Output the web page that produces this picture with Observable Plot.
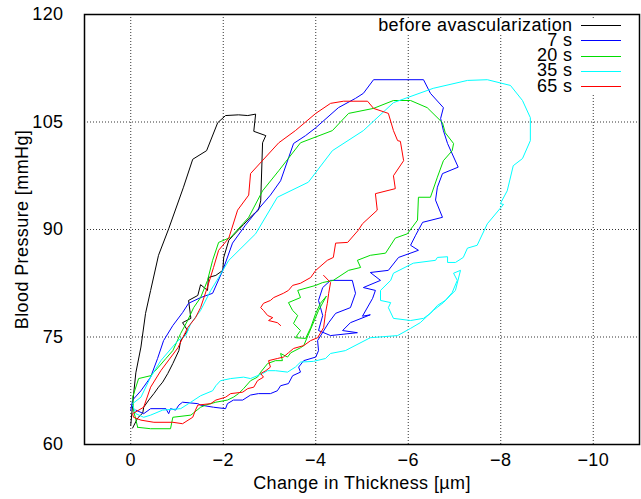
<!DOCTYPE html>
<html><head><meta charset="utf-8">
<script src="https://cdn.jsdelivr.net/npm/d3@7"></script>
<script src="https://cdn.jsdelivr.net/npm/@observablehq/plot@0.6"></script>
<style>
body{margin:0;background:#fff;}
#chart{position:relative;width:641px;height:499px;font-family:"Liberation Sans",Arial,sans-serif;}
.lg{position:absolute;font-size:18px;letter-spacing:0.4px;line-height:15px;height:15px;color:#000;white-space:nowrap;}
</style></head><body><div id="chart"></div>
<script>
const seriesNames = ["before avascularization", "7 s", "20 s", "35 s", "65 s"];
const seriesColors = ["#000000", "#0000ff", "#00dd00", "#00ffff", "#ff0000"];
const xTicks = [0, -2, -4, -6, -8, -10];
const yTicks = [60, 75, 90, 105, 120];

const before = [[0,62.7],[-0.06,66.9],[-0.11,70],[-0.22,73.6],[-0.32,78.3],[-0.43,81.5],[-0.6,86.4],[-0.82,90.1],[-1.14,95.9],[-1.34,99.8],[-1.64,101],[-1.88,104.9],[-2.05,105.9],[-2.33,106],[-2.53,105.9],[-2.7,106.1],[-2.66,103.7],[-2.92,103.1],[-2.85,102.1],[-2.81,94],[-2.76,92.7],[-2.63,92],[-2.44,90.7],[-2.22,89.2],[-2.12,88.5],[-2.01,86.1],[-1.99,84.3],[-1.84,83.6],[-1.68,83.3],[-1.66,81.5],[-1.51,82.3],[-1.45,80.8],[-1.25,80.1],[-1.3,77.6],[-1.12,77],[-1.23,75.9],[-1.08,74.5],[-1.04,73.1],[-0.91,71.3],[-0.8,69.9],[-0.69,68.7],[-0.6,68],[-0.5,67.1],[-0.39,66.2],[-0.28,65.2],[-0.26,64.4],[-0.15,63.7],[-0.04,62.3]];

const s7 = [[0,64.8],[-0.04,66.2],[-0.22,67.5],[-0.43,69.4],[-0.58,72],[-0.71,74.5],[-0.91,76.6],[-1.12,78.4],[-1.25,79.7],[-1.51,80.5],[-1.77,81.1],[-1.99,84.3],[-2.2,88.1],[-2.48,90.6],[-2.74,92.7],[-3.02,94.8],[-3.24,96.8],[-3.52,102],[-3.78,103.1],[-4,104.2],[-4.49,107],[-4.86,108.3],[-5.03,109],[-5.25,110.9],[-6.33,110.9],[-6.48,109],[-6.76,107],[-6.7,105.5],[-6.76,103.8],[-6.85,102],[-7.08,98.7],[-6.74,97.8],[-6.63,95.9],[-6.59,94.1],[-6.74,91.7],[-6.31,91],[-6.16,89.2],[-6.05,87.8],[-6.22,87.1],[-5.79,86.1],[-5.57,84.3],[-5.18,84],[-5.4,82.9],[-5.03,81.9],[-5.29,81.5],[-5.23,80.4],[-5.01,77.9],[-5.18,78.1],[-4.75,77],[-4.58,75.9],[-4.9,75.6],[-4.32,75.2],[-4.06,75.9],[-4.15,78],[-4.06,80.1],[-4.15,81.9],[-4.32,82.9],[-4.79,82.9],[-4.86,81.1],[-4.75,79.1],[-4.43,78.3],[-4.28,77],[-4.04,74.5],[-4.06,73.1],[-4,72.2],[-3.74,71.7],[-3.63,70.8],[-3.67,70.1],[-3.5,69.6],[-3.41,68.5],[-3.24,68.2],[-3.17,67.5],[-3.02,67.1],[-2.76,67.1],[-2.59,66.9],[-2.42,66.2],[-2.22,66.2],[-2.09,65.7],[-2.05,65],[-1.79,65.2],[-1.51,65.5],[-1.45,65.7],[-1.12,65.9],[-1.04,65.5],[-0.97,64.8],[-0.86,65],[-0.82,64.3],[-0.76,65],[-0.43,65],[-0.28,64.3],[-0.11,64.8]];

const s20 = [[-0.15,62.4],[-0.06,64.8],[-0.04,66.6],[-0.17,69.2],[-0.43,69.6],[-0.6,70.8],[-0.76,72],[-0.91,73.1],[-1.08,75.5],[-1.23,77.3],[-1.36,79.1],[-1.51,80.5],[-1.66,82.9],[-1.77,85.7],[-1.9,88.2],[-2.16,88.9],[-2.55,91.7],[-2.85,95.4],[-3.2,98.2],[-3.67,102.1],[-4.36,103.8],[-4.71,106.2],[-5.25,106.9],[-5.68,108],[-6.05,108],[-6.41,107],[-6.74,104.9],[-6.8,103.5],[-6.98,102],[-6.95,101],[-6.76,99.6],[-6.63,97.3],[-6.48,94.5],[-6.22,94.5],[-6.2,91.3],[-5.98,89.4],[-5.72,88.8],[-5.51,86.7],[-5.18,86.4],[-4.9,85.7],[-4.97,84.7],[-4.71,84.3],[-4.38,82.9],[-4.15,82.6],[-4,82.2],[-3.61,81.5],[-3.67,80.5],[-3.41,79.8],[-3.5,78.7],[-3.61,78],[-3.52,76.9],[-3.67,75.9],[-3.56,74.9],[-3.78,74.8],[-3.89,76.3],[-4,78.3],[-4.1,79.7],[-4.23,80.7],[-4.06,78.7],[-3.74,73.8],[-3.67,73.5],[-3.46,72.8],[-3.39,72.2],[-3.24,72.7],[-3.28,71.7],[-3.13,71.7],[-2.96,71.3],[-2.81,70.1],[-2.74,69.4],[-2.59,68.9],[-2.44,67.8],[-2.33,67.1],[-2.22,66.6],[-2.09,66.2],[-1.84,65.9],[-1.62,65.5],[-1.51,65.2],[-1.3,64.1],[-0.91,63.8],[-0.86,62.2],[-0.43,62.2],[-0.15,62.4]];

const s35 = [[-0.04,65.7],[-0.22,66.6],[-0.43,69.4],[-0.65,71.7],[-1.02,74.5],[-1.19,75.2],[-1.3,76.9],[-1.51,78.7],[-1.73,81.5],[-1.9,83.3],[-2.12,85.7],[-2.7,89.4],[-3.17,94.5],[-3.84,96.6],[-4.36,101],[-5.03,103.8],[-5.68,107.7],[-6.54,109.7],[-7.28,110.8],[-7.71,110.9],[-8.21,110.1],[-8.47,108],[-8.64,105.6],[-8.64,102.4],[-8.47,99.9],[-8.27,98.9],[-8.14,95.4],[-7.99,93.6],[-8.06,93.5],[-7.71,90.8],[-7.49,87.8],[-7.28,87.4],[-7.19,86.1],[-7.02,85.4],[-6.85,85.4],[-6.85,86.2],[-6.63,86.1],[-6.59,85.7],[-6.11,85.3],[-5.68,83.9],[-5.62,82.9],[-5.4,81.5],[-5.4,80.1],[-5.62,79.8],[-5.57,79.1],[-5.68,77.6],[-6.05,77.3],[-6.33,77.6],[-6.48,78.3],[-6.63,79.4],[-6.8,80.1],[-6.95,81.2],[-7.06,82.9],[-6.98,83.9],[-7.13,84.3],[-7.02,81.5],[-6.91,80.8],[-6.76,79.8],[-6.54,78.7],[-6.26,77],[-6.05,76.2],[-5.77,75.2],[-5.18,74.9],[-4.64,73.1],[-4.32,72.7],[-4.21,72],[-3.95,71.6],[-3.67,71.5],[-3.56,70.8],[-3.39,70.1],[-3.13,70.3],[-2.96,70.3],[-2.85,69.9],[-2.59,69.2],[-2.44,69.4],[-2.16,69.2],[-1.94,68.9],[-1.84,68.2],[-1.77,67.5],[-1.51,66.8],[-1.25,65.7],[-1.08,65],[-0.69,64.8],[-0.43,64.1],[-0.28,63.8],[-0.11,64.3],[-0.04,65.5]];

const s65 = [[-3.24,76.6],[-3.17,77],[-2.98,77.3],[-3.07,77.7],[-2.96,78],[-2.87,78.7],[-2.81,79.1],[-2.87,79.7],[-3.02,80.1],[-3.09,80.5],[-3.3,81.1],[-3.41,81.5],[-3.5,82.2],[-3.67,82.5],[-3.89,83.3],[-4,84.3],[-4.25,85.7],[-4.38,86.1],[-4.43,88.1],[-4.69,88.2],[-4.92,89.9],[-5.01,90.8],[-5.33,92.7],[-5.29,95],[-5.72,95.7],[-5.68,97.5],[-5.9,99.6],[-5.83,102.3],[-5.77,102.4],[-5.68,103.8],[-5.57,106.2],[-5.25,106.9],[-5.12,107.9],[-4.6,107.9],[-4.32,107.6],[-4,106.2],[-3.56,103.8],[-3.2,102.1],[-2.59,97.8],[-2.55,94.8],[-2.31,92.7],[-2.12,88.8],[-1.9,87.1],[-1.79,84.7],[-1.66,82],[-1.51,79.1],[-1.4,77.7],[-1.23,76.3],[-1.02,73.5],[-0.65,70.3],[-0.43,68],[-0.28,65.2],[-0.04,64.3],[-0.06,63.8],[-0.22,63.4],[-0.5,63.1],[-0.91,63.1],[-1.12,62.9],[-1.34,63.8],[-1.4,64.8],[-1.45,65.5],[-1.73,65.7],[-1.84,66.2],[-2.05,66.6],[-2.16,67.1],[-2.42,67.3],[-2.53,67.8],[-2.66,68],[-2.74,68.9],[-2.87,69.4],[-2.81,69.9],[-2.92,70.3],[-3.02,70.8],[-2.98,71.7],[-3.17,72],[-3.3,72.2],[-3.41,72.8],[-3.52,73.4],[-3.74,73.8],[-3.89,74.5],[-4.04,74.9],[-4.17,76.3],[-4.21,78.3],[-4.25,79.7],[-4.28,81.1],[-4.32,82.6],[-4.17,83.6]];

const seriesData = [before, s7, s20, s35, s65];
const rows = [];
seriesData.forEach((arr, k) => arr.forEach(([x, y], i) => rows.push({series: seriesNames[k], i, x, y})));

const W = 641, H = 499;
const plot = Plot.plot({
  width: W, height: H,
  marginLeft: 84, marginRight: 2, marginTop: 14, marginBottom: 55,
  style: {fontFamily: '"Liberation Sans", Arial, sans-serif', fontSize: "18px", letterSpacing: "0.4px", background: "#fff", color: "#000"},
  x: {domain: [1, -11]},
  y: {domain: [60, 120]},
  color: {domain: seriesNames, range: seriesColors},
  marks: [
    Plot.gridX(xTicks, {stroke: "#000", strokeOpacity: 0.8, strokeDasharray: "1,2"}),
    Plot.gridY(yTicks, {stroke: "#000", strokeOpacity: 0.8, strokeDasharray: "1,2"}),
    Plot.line(rows, {x: "x", y: "y", z: "series", stroke: "series", strokeWidth: 1, curve: "linear"}),
    Plot.frame({stroke: "#000", strokeWidth: 1.5}),
    Plot.axisY(yTicks, {tickSize: 0, tickPadding: 21, fontSize: 18, label: null}),
    Plot.axisX(xTicks, {tickSize: 0, tickPadding: 9, fontSize: 18, label: null}),
    Plot.text(["Blood Pressure [mmHg]"], {frameAnchor: "left", textAnchor: "middle", rotate: -90, dx: -62, fontSize: 18}),
    Plot.text(["Change in Thickness [µm]"], {frameAnchor: "bottom", textAnchor: "middle", dy: 44, fontSize: 18})
  ]
});
const chart = document.getElementById("chart");
chart.appendChild(plot);

// legend overlay (white patches hide the grid under the key, as in the reference)
const rowY = [25, 40.3, 55.6, 70.9, 86.2];
const patch1 = document.createElement("div");
patch1.style.cssText = "position:absolute;left:372px;top:19px;width:264px;height:14px;background:#fff;";
chart.appendChild(patch1);
const patch2 = document.createElement("div");
patch2.style.cssText = "position:absolute;left:528px;top:33px;width:108px;height:62px;background:#fff;";
chart.appendChild(patch2);
seriesNames.forEach((name, k) => {
  const t = document.createElement("div");
  t.className = "lg";
  t.textContent = name;
  t.style.right = (641 - 572.5) + "px";
  t.style.top = (rowY[k] - 7.5) + "px";
  chart.appendChild(t);
  const l = document.createElement("div");
  l.style.cssText = `position:absolute;left:581px;width:40px;height:0;border-top:1.2px solid ${seriesColors[k]};top:${rowY[k]}px;`;
  chart.appendChild(l);
});
</script></body></html>
